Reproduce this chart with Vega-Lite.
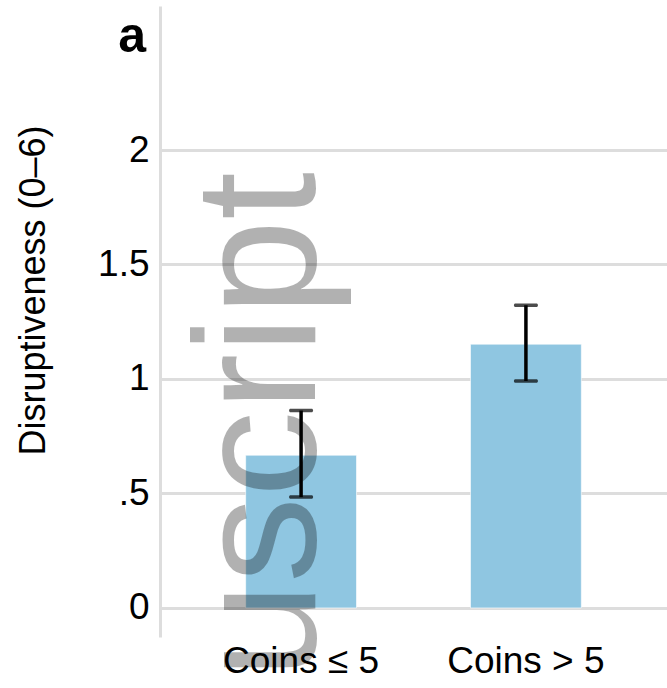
{
  "$schema": "https://vega.github.io/schema/vega-lite/v6.json",
  "width": 507,
  "height": 631,
  "autosize": {"type": "none"},
  "padding": {"left": 160, "top": 6, "right": 0, "bottom": 51},
  "background": "white",
  "config": {
    "view": {"stroke": null},
    "font": "Arial, Liberation Sans, sans-serif"
  },
  "title": {
    "text": "a",
    "anchor": "start",
    "frame": "group",
    "align": "right",
    "baseline": "alphabetic",
    "dx": -14,
    "offset": -96,
    "fontSize": 50,
    "fontWeight": "bold",
    "color": "black",
    "font": "Arial, Liberation Sans, sans-serif"
  },
  "datasets": {
    "bars": [
      {"group": "Coins ≤ 5", "mean": 0.667, "lo": 0.484, "hi": 0.862},
      {"group": "Coins > 5", "mean": 1.152, "lo": 0.991, "hi": 1.322}
    ],
    "mark": [
      {"group": "Coins ≤ 5", "label": "Manuscript", "pos": 1.904}
    ]
  },
  "encoding": {
    "x": {
      "field": "group",
      "type": "nominal",
      "sort": ["Coins ≤ 5", "Coins > 5"],
      "scale": {"paddingInner": 0.507, "paddingOuter": 0.381},
      "axis": {
        "title": null,
        "domain": false,
        "ticks": false,
        "grid": false,
        "labelAngle": 0,
        "labelFontSize": 37,
        "labelColor": "black",
        "labelPadding": 6,
        "labelFont": "Arial, Liberation Sans, sans-serif"
      }
    }
  },
  "layer": [
    {
      "data": {"name": "bars"},
      "mark": {"type": "bar", "color": "#8fc6e1", "stroke": "white", "strokeWidth": 1, "strokeOpacity": 0.6},
      "encoding": {
        "y": {
          "field": "mean",
          "type": "quantitative",
          "scale": {"domain": [-0.127, 2.629], "nice": false, "zero": false},
          "axis": {
            "title": "Disruptiveness (0–6)",
            "titleFontSize": 36,
            "titleFontWeight": "normal",
            "titleColor": "black",
            "titleFont": "Arial, Liberation Sans, sans-serif",
            "titleX": -127,
            "titleY": 284,
            "titleAngle": 270,
            "titleAlign": "center",
            "titleBaseline": "middle",
            "values": [0, 0.5, 1, 1.5, 2],
            "format": "~g",
            "labelExpr": "datum.value == 0.5 ? '.5' : datum.label",
            "labelFontSize": 37,
            "labelColor": "black",
            "labelFont": "Arial, Liberation Sans, sans-serif",
            "labelPadding": 11,
            "ticks": false,
            "domain": true,
            "domainColor": "#dddddd",
            "domainWidth": 3,
            "grid": true,
            "gridColor": "#dddddd",
            "gridWidth": 3
          }
        },
        "y2": {"datum": 0}
      }
    },
    {
      "data": {"name": "mark"},
      "mark": {
        "type": "text",
        "angle": 270,
        "align": "right",
        "baseline": "alphabetic",
        "dy": 14,
        "fontSize": 172,
        "font": "Arial, Liberation Sans, sans-serif",
        "color": "black",
        "opacity": 0.3
      },
      "encoding": {
        "y": {"field": "pos", "type": "quantitative"},
        "text": {"field": "label"}
      }
    },
    {
      "data": {"name": "bars"},
      "mark": {"type": "rule", "color": "black", "strokeWidth": 3.5},
      "encoding": {
        "y": {"field": "lo", "type": "quantitative"},
        "y2": {"field": "hi"}
      }
    },
    {
      "data": {"name": "bars"},
      "mark": {"type": "tick", "color": "black", "thickness": 3.5, "size": 24, "cornerRadius": 1.5},
      "encoding": {
        "y": {"field": "lo", "type": "quantitative"}
      }
    },
    {
      "data": {"name": "bars"},
      "mark": {"type": "tick", "color": "black", "thickness": 3.5, "size": 24, "cornerRadius": 1.5},
      "encoding": {
        "y": {"field": "hi", "type": "quantitative"}
      }
    }
  ]
}
